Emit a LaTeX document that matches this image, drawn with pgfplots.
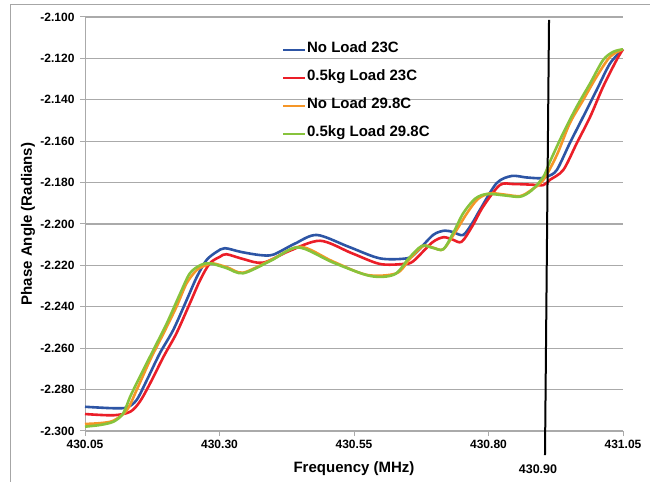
\documentclass[border=0pt]{standalone}
\usepackage{fontspec}
\setmainfont{Liberation Sans}
\usepackage{pgfplots}
\pgfplotsset{compat=1.18}

\definecolor{cblue}{RGB}{45,85,165}
\definecolor{cred}{RGB}{235,30,40}
\definecolor{corange}{RGB}{245,150,40}
\definecolor{cgreen}{RGB}{135,195,60}
\definecolor{gridgray}{RGB}{170,170,170}

\begin{document}
\begin{tikzpicture}
  \useasboundingbox (0,0) rectangle (650bp,482bp);
  % chart area frame (only top and left edges are in view)
  \draw[black!35, line width=1bp] (10bp,0) -- (10bp,477bp) -- (650bp,477bp);
  \begin{axis}[
    at={(85bp,51bp)}, anchor=south west,
    scale only axis, width=538bp, height=414bp,
    xmin=430.05, xmax=431.05, ymin=-2.3, ymax=-2.1,
    axis lines=left, axis line style={-, gridgray, line width=1bp},
    xtick={430.05,430.30,430.55,430.80,431.05},
    xticklabels={430.05,430.30,430.55,430.80,431.05},
    ytick={-2.30,-2.28,-2.26,-2.24,-2.22,-2.20,-2.18,-2.16,-2.14,-2.12,-2.10},
    yticklabels={-2.300,-2.280,-2.260,-2.240,-2.220,-2.200,-2.180,-2.160,-2.140,-2.120,-2.100},
    tick align=outside, major tick length=5bp,
    tick style={gridgray, line width=1bp},
    ymajorgrids, grid style={gridgray, line width=1.2bp},
    tick label style={font=\fontsize{12bp}{14bp}\selectfont\bfseries},
    yticklabel style={xshift=-2bp},
    xticklabel style={yshift=-1bp},
    every axis x label/.style={at={(axis description cs:0.5,-0.090)}, anchor=center},
    every axis y label/.style={at={(axis description cs:-0.106,0.5)}, anchor=center, rotate=90},
    label style={font=\fontsize{15bp}{18bp}\selectfont\bfseries},
    xlabel={Frequency (MHz)},
    ylabel={Phase Angle (Radians)},
    clip=false,
    legend cell align=left,
    legend image code/.code={\draw[#1, line width=2bp] (0bp,0bp) -- (22bp,0bp);},
    legend style={draw=none, fill=none, at={(axis description cs:0.366,0.935)},
      anchor=north west, font=\fontsize{15bp}{18bp}\selectfont\bfseries,
      inner sep=0pt, row sep=16.5bp,
      nodes={inner sep=1bp, text height=0.75em, text depth=0.2em}},
    every axis plot/.append style={smooth, tension=0.5, line width=2.6bp},
  ]
    \addplot[cblue] coordinates {
      (430.050,-2.2883) (430.103,-2.2890) (430.128,-2.2886) (430.146,-2.2850)
      (430.165,-2.2754) (430.189,-2.2625) (430.214,-2.2512) (430.239,-2.2367)
      (430.258,-2.2255) (430.276,-2.2174) (430.295,-2.2134) (430.310,-2.2117)
      (430.340,-2.2135) (430.375,-2.2150) (430.400,-2.2148) (430.440,-2.2095)
      (430.481,-2.2053) (430.540,-2.2110) (430.598,-2.2166) (430.648,-2.2166)
      (430.665,-2.2140) (430.697,-2.2053) (430.719,-2.2032) (430.735,-2.2040)
      (430.753,-2.2053) (430.770,-2.1995) (430.784,-2.1932) (430.815,-2.1803)
      (430.843,-2.1768) (430.870,-2.1775) (430.896,-2.1779) (430.910,-2.1770)
      (430.927,-2.1739) (430.951,-2.1610) (430.976,-2.1482) (431.001,-2.1353)
      (431.026,-2.1224) (431.050,-2.1156)};
    \addlegendentry{No Load 23C}
    \addplot[cred] coordinates {
      (430.050,-2.2918) (430.103,-2.2924) (430.134,-2.2907) (430.152,-2.2858)
      (430.171,-2.2770) (430.196,-2.2641) (430.220,-2.2528) (430.245,-2.2383)
      (430.264,-2.2271) (430.282,-2.2190) (430.301,-2.2158) (430.313,-2.2146)
      (430.345,-2.2170) (430.381,-2.2187) (430.430,-2.2130) (430.487,-2.2081)
      (430.545,-2.2140) (430.598,-2.2193) (430.642,-2.2193) (430.660,-2.2180)
      (430.695,-2.2090) (430.716,-2.2064) (430.733,-2.2075) (430.750,-2.2086)
      (430.770,-2.2010) (430.790,-2.1916) (430.821,-2.1812) (430.846,-2.1807)
      (430.880,-2.1810) (430.902,-2.1812) (430.914,-2.1787) (430.939,-2.1739)
      (430.964,-2.1610) (430.989,-2.1482) (431.013,-2.1337) (431.038,-2.1208)
      (431.050,-2.1156)};
    \addlegendentry{0.5kg Load 23C}
    \addplot[corange] coordinates {
      (430.050,-2.2966) (430.078,-2.2962) (430.103,-2.2950) (430.128,-2.2899)
      (430.146,-2.2802) (430.171,-2.2657) (430.196,-2.2528) (430.220,-2.2400)
      (430.239,-2.2286) (430.258,-2.2222) (430.276,-2.2198) (430.288,-2.2190)
      (430.315,-2.2210) (430.344,-2.2235) (430.395,-2.2175) (430.450,-2.2110)
      (430.510,-2.2180) (430.574,-2.2246) (430.629,-2.2238) (430.655,-2.2165)
      (430.679,-2.2106) (430.698,-2.2115) (430.716,-2.2122) (430.738,-2.2040)
      (430.760,-2.1948) (430.780,-2.1880) (430.803,-2.1852) (430.830,-2.1858)
      (430.859,-2.1865) (430.880,-2.1835) (430.902,-2.1787) (430.927,-2.1667)
      (430.951,-2.1514) (430.976,-2.1401) (431.001,-2.1288) (431.026,-2.1192)
      (431.050,-2.1156)};
    \addlegendentry{No Load 29.8C}
    \addplot[cgreen] coordinates {
      (430.050,-2.2979) (430.078,-2.2971) (430.103,-2.2955) (430.121,-2.2915)
      (430.134,-2.2834) (430.152,-2.2738) (430.177,-2.2609) (430.202,-2.2480)
      (430.227,-2.2335) (430.245,-2.2238) (430.265,-2.2198) (430.282,-2.2190)
      (430.312,-2.2212) (430.344,-2.2238) (430.395,-2.2178) (430.446,-2.2113)
      (430.510,-2.2185) (430.580,-2.2251) (430.625,-2.2244) (430.652,-2.2165)
      (430.676,-2.2106) (430.696,-2.2115) (430.716,-2.2122) (430.735,-2.2040)
      (430.753,-2.1948) (430.775,-2.1878) (430.797,-2.1855) (430.830,-2.1862)
      (430.859,-2.1868) (430.880,-2.1838) (430.902,-2.1772) (430.914,-2.1700)
      (430.939,-2.1560) (430.964,-2.1433) (430.989,-2.1320) (431.013,-2.1208)
      (431.032,-2.1168) (431.050,-2.1156)};
    \addlegendentry{0.5kg Load 29.8C}
    % hand-drawn marker line at 430.90 MHz
    \draw[black, line width=2bp] (axis cs:430.9125,-2.1014) -- (axis cs:430.905,-2.3116);
    \node[font=\fontsize{12.5bp}{14bp}\selectfont\bfseries, anchor=center]
      at (axis cs:430.892,-2.3184) {430.90};
  \end{axis}
\end{tikzpicture}
\end{document}
